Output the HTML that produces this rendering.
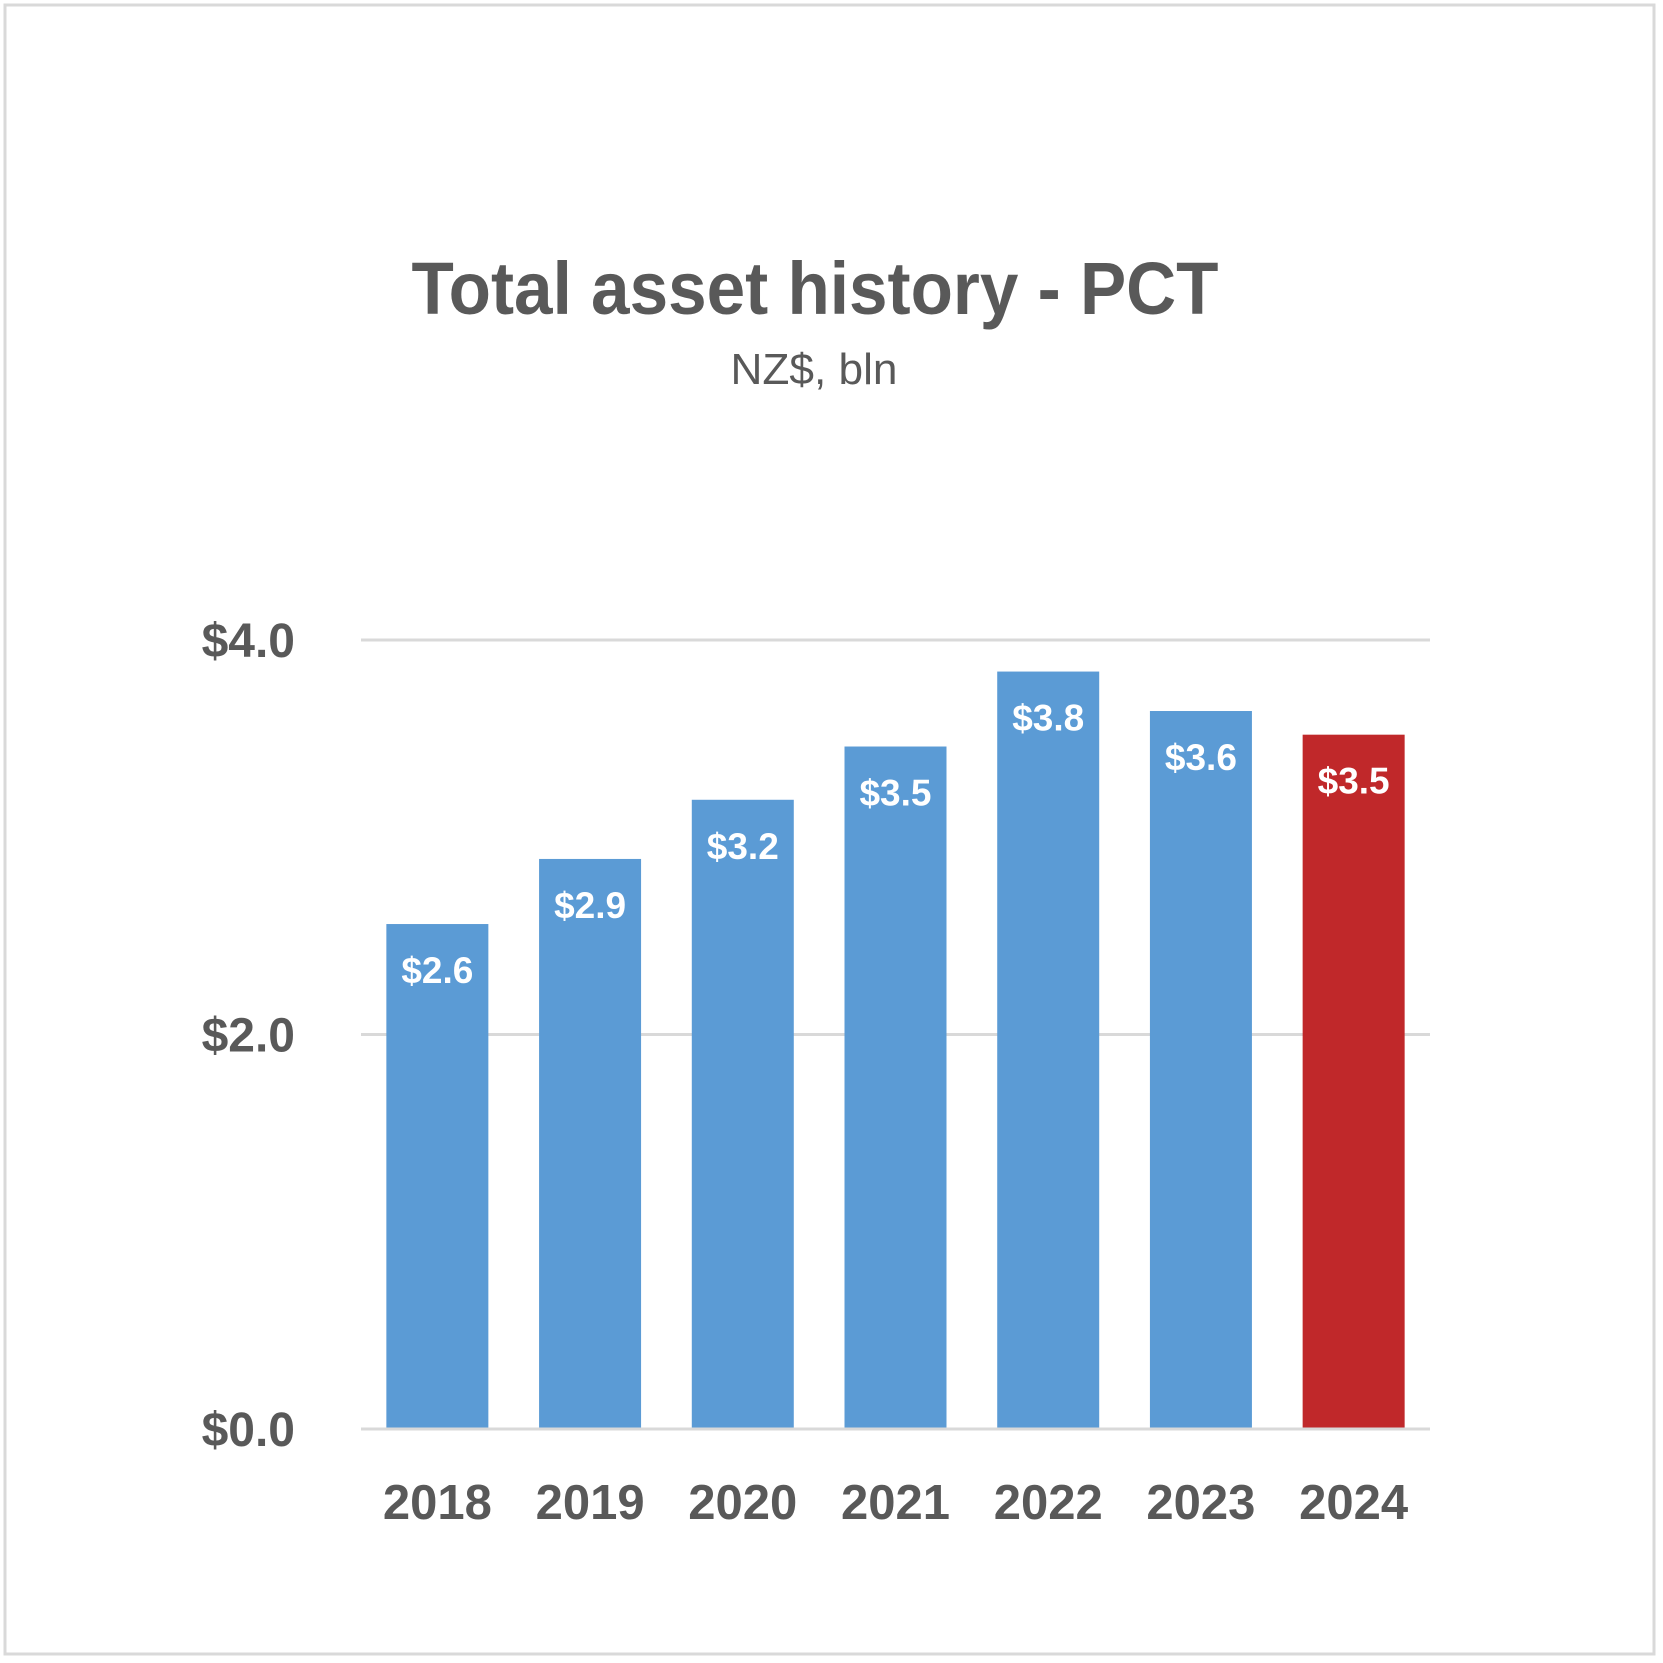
<!DOCTYPE html>
<html><head><meta charset="utf-8"><style>
html,body{margin:0;padding:0;background:#fff}
svg{display:block}
text{font-family:"Liberation Sans",sans-serif}
</style></head><body>
<svg id="chart" width="1663" height="1663" viewBox="0 0 1663 1663" xmlns="http://www.w3.org/2000/svg">
<rect x="5" y="5" width="1649" height="1649" fill="#fff" stroke="#d9d9d9" stroke-width="3"/>
<text x="815" y="314" text-anchor="middle" font-size="74" font-weight="bold" fill="#595959" textLength="807" lengthAdjust="spacingAndGlyphs">Total asset history - PCT</text>
<text x="814" y="384" text-anchor="middle" font-size="44" fill="#595959" textLength="167" lengthAdjust="spacingAndGlyphs">NZ$, bln</text>
<g id="grid"></g><g id="bars"></g><g id="labels"></g>
</svg>
<script>
const categories=["2018","2019","2020","2021","2022","2023","2024"];
const values=[2.56,2.89,3.19,3.46,3.84,3.64,3.52];
const valueLabels=["$2.6","$2.9","$3.2","$3.5","$3.8","$3.6","$3.5"];
const tickValues=[0,2,4];
const tickLabels=["$0.0","$2.0","$4.0"];
const highlight=["2024"];

const NS="http://www.w3.org/2000/svg";
const X0=361,X1=1430,Y0=1429,Y4=640;
const y=v=>Y0-(Y0-Y4)*v/4;
const band=(X1-X0)/categories.length;
const xc=i=>X0+band*(i+0.5);
const BW=102;
function mk(tag,attrs,parent,txt){const e=document.createElementNS(NS,tag);for(const k in attrs)e.setAttribute(k,attrs[k]);if(txt!==undefined)e.textContent=txt;document.getElementById(parent).appendChild(e);return e;}
tickValues.forEach((t,i)=>{
  const l=mk('line',{x1:X0,x2:X1,y1:y(t),y2:y(t),stroke:'#d9d9d9','stroke-width':3},'grid');
  
  
  const tx=mk('text',{x:295,y:y(t)+17,'text-anchor':'end','font-size':48,'font-weight':'bold',fill:'#595959'},'labels',tickLabels[i]);
  
  
});
categories.forEach((c,i)=>{
  const hi=highlight.includes(c);
  const r=mk('rect',{x:xc(i)-BW/2,y:y(values[i]),width:BW,height:Y0-y(values[i]),fill:hi?'#c0282a':'#5b9bd5'},'bars');
  
  
  const v=mk('text',{x:xc(i),y:y(values[i])+59,'text-anchor':'middle','font-size':37,'font-weight':'bold',fill:'#fff'},'labels',valueLabels[i]);
  
  
  const xl=mk('text',{x:xc(i),y:1519,'text-anchor':'middle','font-size':49,'font-weight':'bold',fill:'#595959'},'labels',c);
  
  
});
// baseline on top
const base=mk('line',{x1:X0,x2:X1,y1:Y0,y2:Y0,stroke:'#d9d9d9','stroke-width':3},'labels');


</script>
</body></html>
